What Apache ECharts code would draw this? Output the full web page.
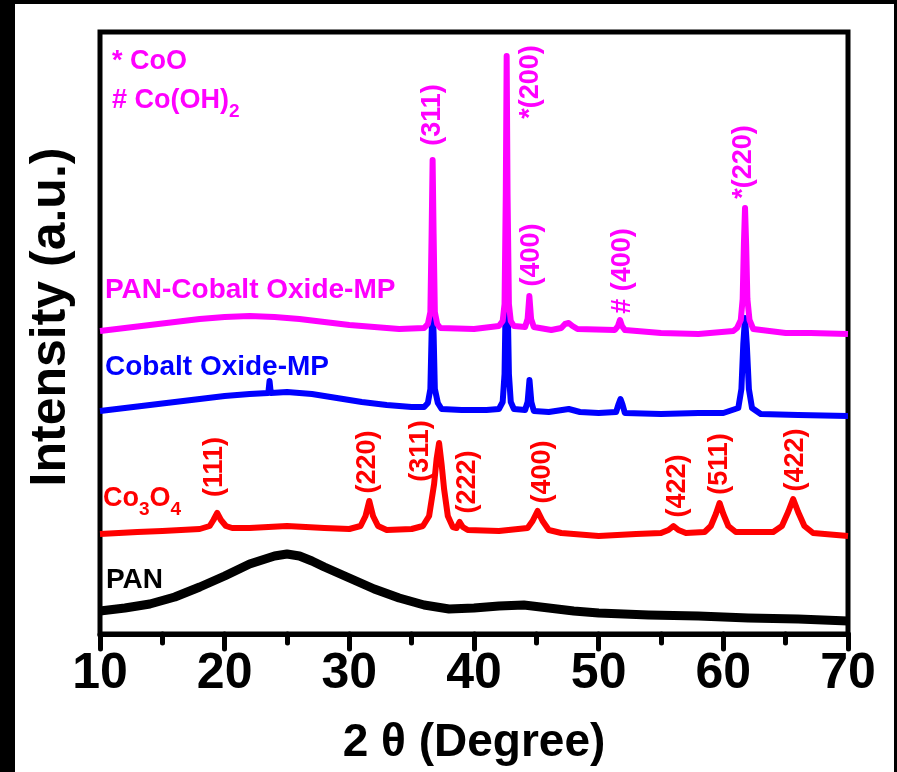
<!DOCTYPE html>
<html>
<head>
    <meta charset="utf-8">
    <title>XRD patterns</title>
    <script src="https://cdn.jsdelivr.net/npm/echarts@6/dist/echarts.min.js"></script>
    <style>
        body { margin: 0; background: #fff; }
    </style>
</head>
<body>
<div id="xrd" style="width:897px;height:772px;"></div>
<script>
    // [2theta, intensity] - every pattern already shifted up by its own offset (a.u.)
    var panData = [
        [10, 23], [12, 26], [14, 30], [16, 37], [18, 47], [20, 58], [22, 70], [24, 78], [25, 80],
        [26, 78], [27, 73], [28, 67], [30, 56], [32, 45], [34, 36], [36, 29], [38, 25], [40, 26],
        [42, 28], [44, 29], [46, 26], [48, 23], [50, 21], [54, 19], [58, 18], [62, 16], [66, 15], [70, 13]
    ];
    var co3o4Data = [
        [10, 100], [13, 102], [15, 103], [18, 105], [18.8, 108], [19.1, 114], [19.4, 121], [19.7, 114],
        [20.1, 108], [20.6, 106], [22, 106], [25, 108], [28, 106], [30, 105], [30.9, 108], [31.3, 118],
        [31.6, 133], [31.9, 118], [32.3, 108], [33, 104], [35, 105], [35.9, 108], [36.4, 118], [36.8, 150],
        [37.0, 175], [37.2, 191], [37.4, 170], [37.6, 145], [37.9, 118], [38.3, 107], [38.6, 106],
        [38.85, 112], [39.1, 107], [39.5, 104], [42, 103], [44.3, 106], [44.7, 113], [45.1, 123],
        [45.5, 113], [46, 104], [47, 101], [50, 98], [53, 100], [55, 101], [55.6, 104], [56.0, 108],
        [56.4, 104], [57, 101], [58.5, 102], [59.0, 108], [59.4, 120], [59.7, 131], [60.0, 120],
        [60.4, 108], [61, 102], [64, 102], [64.7, 108], [65.2, 122], [65.6, 135], [66.0, 122],
        [66.5, 108], [67.2, 101], [70, 98]
    ];
    var cobaltOxideData = [
        [10, 223], [12, 226], [14, 229], [16, 232], [18, 235], [20, 238], [22, 240], [23.5, 241],
        [23.6, 253], [23.7, 241], [25, 242], [27, 240], [29, 236], [31, 232], [33, 229], [35, 227],
        [36.0, 227], [36.3, 231], [36.5, 245], [36.6, 300], [36.68, 330], [36.76, 300], [36.86, 245],
        [37.1, 231], [37.4, 225], [39, 224], [41, 224], [42.0, 225], [42.3, 232], [42.45, 260],
        [42.55, 340], [42.62, 370], [42.69, 340], [42.8, 260], [42.95, 232], [43.2, 225], [44.1, 224],
        [44.3, 232], [44.45, 254], [44.6, 232], [44.8, 223], [46, 222], [47.6, 225], [48.5, 222],
        [50, 221], [51.4, 222], [51.6, 230], [51.75, 235], [51.9, 230], [52.1, 221], [55, 220],
        [58, 221], [60, 221], [61.2, 226], [61.45, 245], [61.6, 290], [61.74, 316], [61.88, 290],
        [62.05, 245], [62.3, 226], [63, 220], [66, 219], [70, 218]
    ];
    var panCobaltData = [
        [10, 303], [12, 306], [14, 309], [16, 312], [18, 315], [20, 317], [22, 318], [24, 317],
        [26, 315], [28, 312], [30, 309], [32, 307], [34, 305], [36.0, 306], [36.3, 310], [36.5, 322],
        [36.6, 400], [36.68, 474], [36.76, 400], [36.86, 322], [37.05, 310], [37.3, 306], [40, 305],
        [42.0, 308], [42.3, 313], [42.45, 330], [42.55, 440], [42.62, 578], [42.69, 440], [42.8, 330],
        [42.95, 313], [43.2, 308], [44.1, 307], [44.3, 315], [44.44, 338], [44.58, 315], [44.8, 307],
        [46.2, 304], [47.0, 306], [47.3, 310], [47.6, 311], [47.9, 308], [48.3, 305], [51.3, 304],
        [51.55, 308], [51.71, 314], [51.87, 308], [52.1, 304], [55, 301], [58, 300], [60.8, 303],
        [61.1, 306], [61.4, 314], [61.55, 335], [61.65, 390], [61.74, 426], [61.83, 390], [61.93, 335],
        [62.1, 314], [62.4, 305], [65, 301], [67, 301], [70, 300]
    ];

    // peak indices: [2theta, intensity at text centre, text]
    var pinkPeakLabels = [
        [36.7, 519, '(311)'], [44.55, 552, '*(200)'], [44.6, 379, '(400)'],
        [51.9, 363, '# (400)'], [61.65, 472, '*(220)']
    ];
    var redPeakLabels = [
        [19.2, 167, '(111)'], [31.5, 172, '(220)'], [35.75, 183, '(311)'], [39.45, 152, '(222)'],
        [45.5, 162, '(400)'], [56.3, 148, '(422)'], [59.7, 170, '(511)'], [65.8, 174, '(422)']
    ];

    var xMin = 10, xMax = 70, xStep = 10;
    var font = 'Arial, "Liberation Sans", sans-serif';

    function line(name, data, color, w) {
        return {
            name: name,
            type: 'line',
            data: data,
            symbol: 'none',
            lineStyle: { color: color, width: w, join: 'round' },
            animation: false
        };
    }

    var chart = echarts.init(document.getElementById('xrd'));
    var option = {
        backgroundColor: '#fff',
        grid: {
            left: 100, top: 32, right: 49, bottom: 138,
            show: true, borderColor: '#000', borderWidth: 5
        },
        xAxis: {
            type: 'value',
            min: xMin, max: xMax, interval: xStep,
            axisLine: { show: true, onZero: false, lineStyle: { color: '#000', width: 5 } },
            axisTick: { show: true, inside: false, length: 15, lineStyle: { color: '#000', width: 5, cap: 'round' } },
            minorTick: { show: true, splitNumber: 2, length: 9, lineStyle: { color: '#000', width: 5, cap: 'round' } },
            splitLine: { show: false },
            axisLabel: { color: '#000', fontSize: 50, fontWeight: 'bold', fontFamily: font, margin: 15 }
        },
        yAxis: { type: 'value', min: 0, max: 602, show: false },
        series: [
            line('PAN', panData, '#000000', 9),
            line('Co3O4', co3o4Data, '#ff0000', 6),
            line('Cobalt Oxide-MP', cobaltOxideData, '#0000ff', 6),
            line('PAN-Cobalt Oxide-MP', panCobaltData, '#ff00ff', 6)
        ]
    };
    chart.setOption(option);

    function txt(x, y, text, color, size, rot, align) {
        return {
            type: 'text', x: x, y: y, rotation: rot || 0, z: 10,
            style: {
                text: text, fill: color, fontSize: size, fontWeight: 'bold', fontFamily: font,
                align: align || 'center', verticalAlign: 'middle'
            }
        };
    }
    function subTxt(x, y, text, color) {
        var t = txt(x, y, text, color, 27, 0, 'left');
        t.style.rich = {
            s: { fontSize: 19, fontWeight: 'bold', fontFamily: font, fill: color, padding: [22, 0, 0, 0] }
        };
        return t;
    }

    var g = [
        { type: 'rect', shape: { x: 0, y: 0, width: 15, height: 772 }, style: { fill: '#000' } },
        { type: 'rect', shape: { x: 0, y: 0, width: 897, height: 4 }, style: { fill: '#000' } },
        { type: 'rect', shape: { x: 894, y: 0, width: 3, height: 772 }, style: { fill: '#000' } },
        txt(51, 317, 'Intensity (a.u.)', '#000', 50, Math.PI / 2),
        txt(474, 743, '2 \u03b8 (Degree)', '#000', 46),
        txt(112, 62, '* CoO', '#ff00ff', 27, 0, 'left'),
        subTxt(112, 101, '# Co(OH){s|2}', '#ff00ff'),
        txt(105, 290, 'PAN-Cobalt Oxide-MP', '#ff00ff', 28, 0, 'left'),
        txt(105, 367, 'Cobalt Oxide-MP', '#0000ff', 28, 0, 'left'),
        subTxt(103, 499, 'Co{s|3}O{s|4}', '#ff0000'),
        txt(106, 580, 'PAN', '#000', 28, 0, 'left')
    ];
    pinkPeakLabels.forEach(function (l) {
        var p = chart.convertToPixel({ gridIndex: 0 }, [l[0], l[1]]);
        g.push(txt(p[0], p[1], l[2], '#ff00ff', 27, Math.PI / 2));
    });
    redPeakLabels.forEach(function (l) {
        var p = chart.convertToPixel({ gridIndex: 0 }, [l[0], l[1]]);
        g.push(txt(p[0], p[1], l[2], '#ff0000', 27, Math.PI / 2));
    });
    chart.setOption({ graphic: g });
</script>
</body>
</html>
